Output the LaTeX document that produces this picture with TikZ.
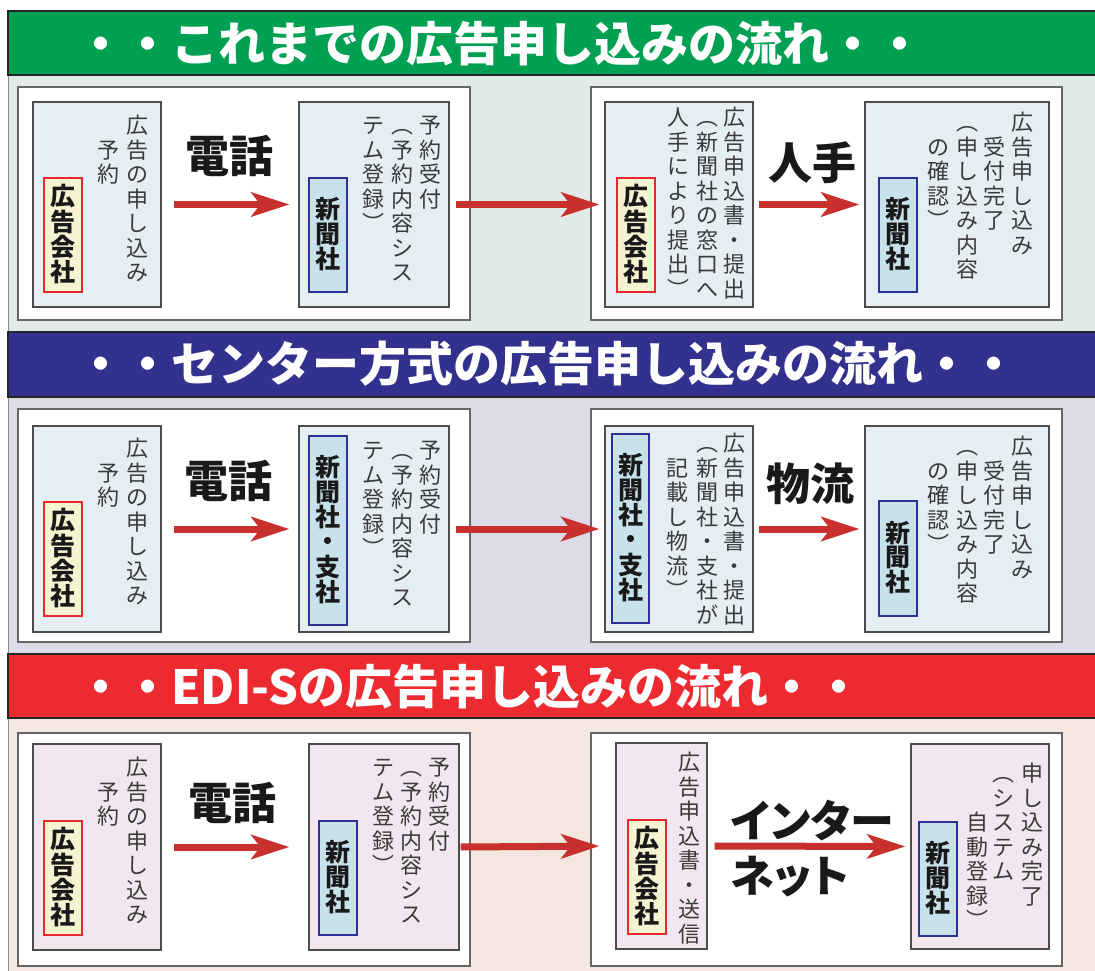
\documentclass[tikz,border=0pt]{standalone}
\usepackage{fontspec}
\usetikzlibrary{arrows.meta}
\setmainfont{Noto Sans CJK JP}
\newfontfamily\jp{Noto Sans CJK JP}
\newfontfamily\jpp{Noto Sans CJK JP}[RawFeature=+palt]
\definecolor{gbar}{HTML}{00A052}
\definecolor{bbar}{HTML}{32328E}
\definecolor{rbar}{HTML}{EC2A30}
\definecolor{bgone}{HTML}{E1EAE6}
\definecolor{bgtwo}{HTML}{DCDBE8}
\definecolor{bgthree}{HTML}{F4E7DF}
\definecolor{boxblue}{HTML}{E4EEF3}
\definecolor{boxpink}{HTML}{F2E7EE}
\definecolor{lblred}{HTML}{E8282E}
\definecolor{lblyellow}{HTML}{F6F3D2}
\definecolor{lblblue}{HTML}{2E3192}
\definecolor{lblcyan}{HTML}{C8E2EC}
\definecolor{arrowred}{HTML}{C8302E}
\definecolor{txtgray}{HTML}{3A3A3A}

\newcommand{\vcell}[2]{\hbox to 1em{\hss\vrule height 0.84\dimexpr#1\relax depth 0.16\dimexpr#1\relax width 0pt\relax #2\hss}}
\ExplSyntaxOn
\NewDocumentCommand{\vtext}{O{24.5pt}m}{\vbox{\offinterlineskip \tl_map_inline:nn {#2} {\vcell{#1}{##1}}}}
\ExplSyntaxOff
\newcommand{\mkbox}[6]{\node[#1, minimum width={#4pt-#2pt}, minimum height={#5pt-#3pt}] (#6) at ({(#2+#4)/2},{(#3+#5)/2}) {};}
\newcommand{\vc}[4]{\node[coltext] (#1) at (#2,#3) {\vtext{#4}};}

\tikzset{
  barline/.style={draw=black!85, line width=1.5pt},
  titletext/.style={anchor=west, inner sep=0pt, text=white, font=\jp\bfseries\fontsize{47}{50}\selectfont},
  panel/.style={draw=black!60, fill=white, line width=1.5pt, inner sep=0pt},
  boxA/.style={draw=black!70, fill=boxblue, line width=1.1pt, inner sep=0pt},
  boxB/.style={draw=black!70, fill=boxpink, line width=1.1pt, inner sep=0pt},
  adlabel/.style={draw=lblred, fill=lblyellow, line width=1.6pt, inner sep=0pt, minimum width=38pt, font=\jp\bfseries\fontsize{25}{26}\selectfont, text=black!90},
  nplabel/.style={draw=lblblue, fill=lblcyan, line width=1.6pt, inner sep=0pt, minimum width=38pt, font=\jp\bfseries\fontsize{25}{26}\selectfont, text=black!90},
  coltext/.style={anchor=north, inner sep=0pt, text=txtgray, font=\jp\fontsize{22}{24}\selectfont},
  bigtext/.style={inner sep=0pt, text=black!90, font=\jp\bfseries\fontsize{44}{48}\selectfont},
  kanatext/.style={inner sep=0pt, anchor=west, text=black!90, font=\jpp\bfseries\fontsize{44}{48}\selectfont},
  flow/.style={draw=arrowred, line width=7pt, -{Stealth[length=38pt,width=24pt,inset=9pt]}},
}

\begin{document}
\begin{tikzpicture}[x=1pt, y=-1pt]
\useasboundingbox (0,0) rectangle (1095,971);
\fill[white] (0,0) rectangle (1095,971);

% backgrounds
\fill[bgone] (8,75) rectangle (1100,332);
\fill[bgtwo] (8,397) rectangle (1100,654);
\fill[bgthree] (8,718) rectangle (1100,975);
\draw[black!45, line width=1pt] (8,11) -- (8,975);

% bars
\path[fill=gbar, barline] (8,11) rectangle (1100,75);
\path[fill=bbar, barline] (8,332) rectangle (1100,397);
\path[fill=rbar, barline] (8,654) rectangle (1100,718);
\node[titletext] (t1) at (77,44) {・・これまでの広告申し込みの流れ・・};
\node[titletext] (t2) at (77,364) {・・センター方式の広告申し込みの流れ・・};
\node[titletext] (t3) at (77,687) {・・EDI-Sの広告申し込みの流れ・・};

% panels
\mkbox{panel}{18}{87}{470}{320}{p1a}
\mkbox{panel}{591}{87}{1062}{320}{p1b}
\mkbox{panel}{18}{409}{470}{642}{p2a}
\mkbox{panel}{591}{409}{1062}{642}{p2b}
\mkbox{panel}{18}{733}{470}{966}{p3a}
\mkbox{panel}{591}{733}{1062}{966}{p3b}

% boxes
\mkbox{boxA}{33}{102}{161}{307}{s1b1}
\mkbox{boxA}{299}{102}{449}{307}{s1b2}
\mkbox{boxA}{605}{102}{753}{307}{s1b3}
\mkbox{boxA}{865}{102}{1049}{307}{s1b4}
\mkbox{boxA}{33}{426}{161}{632}{s2b1}
\mkbox{boxA}{299}{426}{449}{632}{s2b2}
\mkbox{boxA}{605}{426}{753}{632}{s2b3}
\mkbox{boxA}{865}{426}{1049}{632}{s2b4}
\mkbox{boxB}{33}{744}{161}{950}{s3b1}
\mkbox{boxB}{309}{744}{459}{950}{s3b2}
\mkbox{boxB}{616}{743}{707}{949}{s3b3}
\mkbox{boxB}{911}{744}{1049}{949}{s3b4}

% labels
\node[adlabel, minimum height=114pt] (l11) at (63,235) {\vtext{広告会社}};
\node[nplabel, minimum height=114pt] (l12) at (328,235) {\vtext{新聞社}};
\node[adlabel, minimum height=114pt] (l13) at (636,235) {\vtext{広告会社}};
\node[nplabel, minimum height=114pt] (l14) at (898,235) {\vtext{新聞社}};
\node[adlabel, minimum height=114pt] (l21) at (63,559) {\vtext{広告会社}};
\node[nplabel, minimum height=189pt] (l22) at (328,530.5) {\vtext{新聞社・支社}};
\node[nplabel, minimum height=189pt, minimum width=37pt] (l23) at (630.5,528.5) {\vtext{新聞社・支社}};
\node[nplabel, minimum height=115pt] (l24) at (898,558.5) {\vtext{新聞社}};
\node[adlabel, minimum height=114pt] (l31) at (63,878) {\vtext{広告会社}};
\node[nplabel, minimum height=114pt] (l32) at (338,878) {\vtext{新聞社}};
\node[adlabel, minimum height=114pt] (l33) at (647,877) {\vtext{広告会社}};
\node[nplabel, minimum height=114pt] (l34) at (938,879) {\vtext{新聞社}};

% text columns section 1
\vc{c111}{137}{113}{広告の申し込み}
\vc{c112}{108}{137.5}{予約}
\vc{c121}{430}{113}{予約受付}
\vc{c122}{402}{113}{︵予約内容シス}
\vc{c123}{373}{113}{テム登録︶}
\vc{c131}{734}{105}{広告申込書・提出}
\vc{c132}{707}{105}{︵新聞社の窓口へ}
\vc{c133}{678}{105}{人手により提出︶}
\vc{c141}{1022}{110}{広告申し込み}
\vc{c142}{994}{134.5}{受付完了}
\vc{c143}{967}{110}{︵申し込み内容}
\vc{c144}{938}{134.5}{の確認︶}
% section 2
\vc{c211}{137}{436}{広告の申し込み}
\vc{c212}{108}{460.5}{予約}
\vc{c221}{430}{438}{予約受付}
\vc{c222}{402}{438}{︵予約内容シス}
\vc{c223}{373}{438}{テム登録︶}
\vc{c231}{734}{431}{広告申込書・提出}
\vc{c232}{707}{431}{︵新聞社・支社が}
\vc{c233}{677}{455.5}{記載し物流︶}
\vc{c241}{1022}{434}{広告申し込み}
\vc{c242}{994}{458.5}{受付完了}
\vc{c243}{967}{434}{︵申し込み内容}
\vc{c244}{938}{458.5}{の確認︶}
% section 3
\vc{c311}{137}{755}{広告の申し込み}
\vc{c312}{108}{779.5}{予約}
\vc{c321}{439}{755}{予約受付}
\vc{c322}{411}{755}{︵予約内容シス}
\vc{c323}{383}{755}{テム登録︶}
\vc{c331}{689}{750}{広告申込書・送信}
\vc{c341}{1032}{761}{申し込み完了}
\vc{c342}{1003}{761}{︵システム}
\vc{c343}{977}{810}{自動登録︶}

% big labels
\node[bigtext] (m11) at (229,156) {電話};
\node[bigtext] (m13) at (812,163) {人手};
\node[bigtext] (m21) at (228,481) {電話};
\node[bigtext] (m23) at (810,484) {物流};
\node[bigtext] (m31) at (232,803) {電話};
\node[kanatext] (m33a) at (731,821) {インター};
\node[kanatext] (m33b) at (731,877) {ネット};

% arrows
\draw[flow, shorten <=12pt, shorten >=9pt] (s1b1.east) -- (s1b2.west);
\draw[flow, shorten <=6pt, shorten >=5pt] (s1b2.east) -- (s1b3.west);
\draw[flow, shorten <=5pt, shorten >=5pt] (s1b3.east) -- (s1b4.west);
\draw[flow, shorten <=12pt, shorten >=9pt] (s2b1.east) -- (s2b2.west);
\draw[flow, shorten <=6pt, shorten >=5pt] (s2b2.east) -- (s2b3.west);
\draw[flow, shorten <=5pt, shorten >=5pt] (s2b3.east) -- (s2b4.west);
\draw[flow, shorten <=12pt, shorten >=19pt] (s3b1.east) -- (s3b2.west);
\draw[flow, shorten <=1pt, shorten >=16pt] (s3b2.east) -- (s3b3.west);
\draw[flow, shorten <=7pt, shorten >=5pt] (s3b3.east) -- (s3b4.west);
\end{tikzpicture}
\end{document}
